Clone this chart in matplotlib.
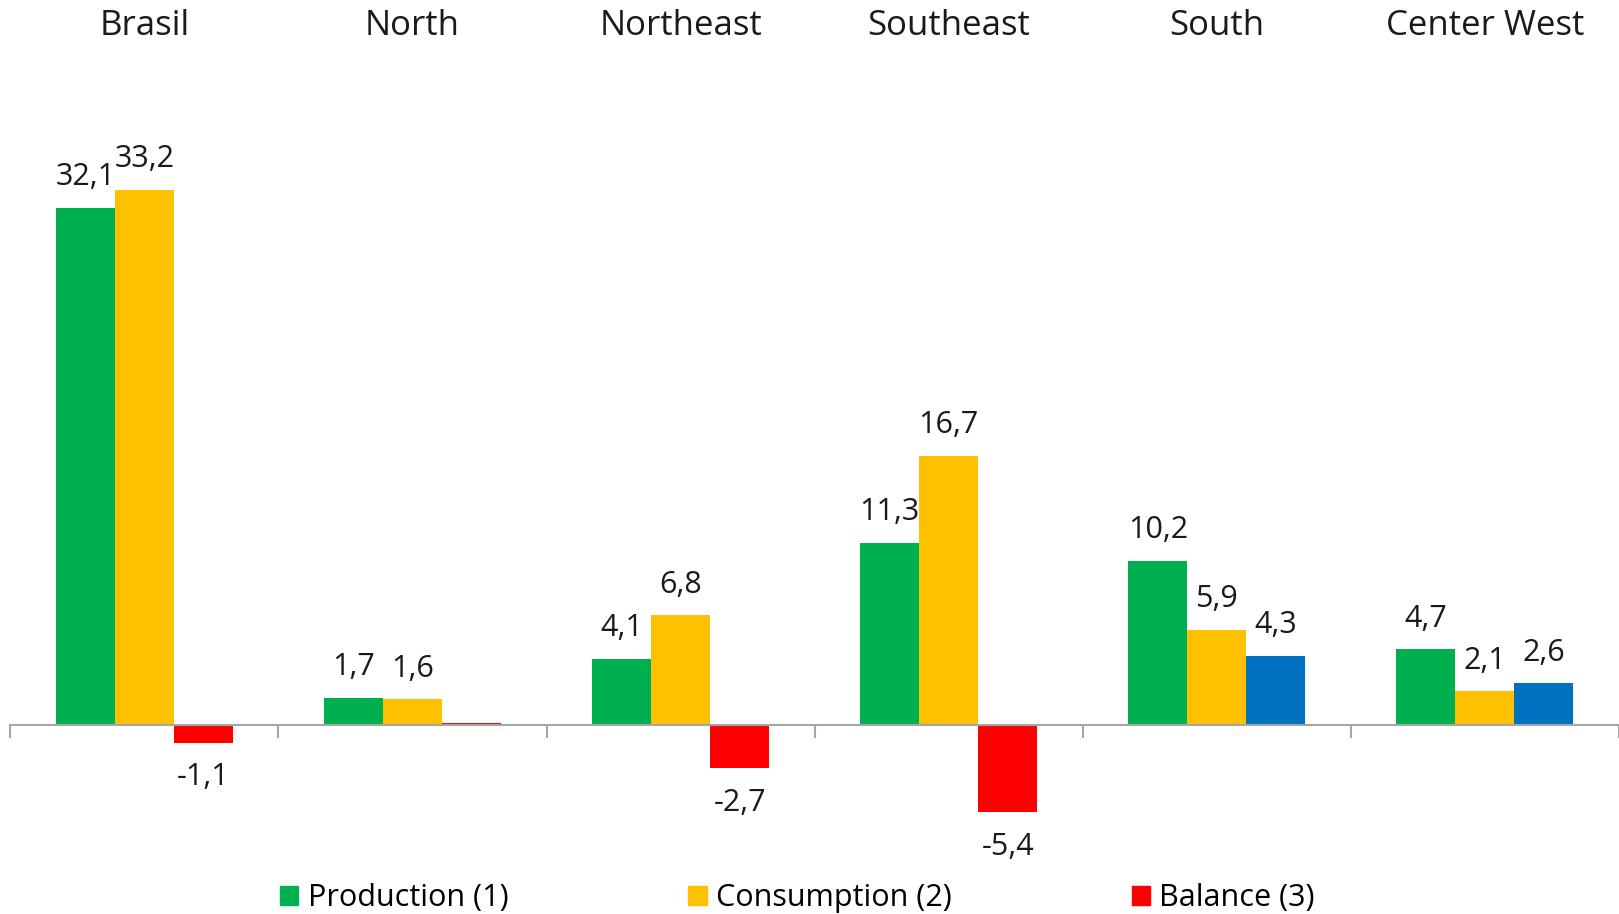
import matplotlib
matplotlib.use("Agg")
import matplotlib.pyplot as plt
import matplotlib.transforms as mtransforms
from matplotlib.patches import Patch

# Data
regions = ["Brasil", "North", "Northeast", "Southeast", "South", "Center West"]
production = [32.1, 1.7, 4.1, 11.3, 10.2, 4.7]
consumption = [33.2, 1.6, 6.8, 16.7, 5.9, 2.1]
balance = [-1.1, 0.1, -2.7, -5.4, 4.3, 2.6]
balance_labels = ["-1,1", "", "-2,7", "-5,4", "4,3", "2,6"]

green = "#00B050"
yellow = "#FFC000"
red = "#FF0000"
blue = "#0070C0"

plt.rcParams["font.family"] = ["Open Sans", "DejaVu Sans"]


def fmt(v):
    return f"{v:.1f}".replace(".", ",")


fig = plt.figure(figsize=(16.19, 9.14), dpi=100)
ax = fig.add_axes([0.0064, 0.0658, 0.9936, 0.7757])
ax.set_xlim(0, 6)
ax.set_ylim(-8, 36)

w = 0.22
xs = [i + 0.5 for i in range(len(regions))]
# positive balance shown in blue, except the tiny North bar
bal_colors = [blue if (b > 0 and r != "North") else red
              for b, r in zip(balance, regions)]

ax.bar([x - w for x in xs], production, w, color=green)
ax.bar(xs, consumption, w, color=yellow)
ax.bar([x + w for x in xs], balance, w, color=bal_colors)


def label(x, v, txt):
    if not txt:
        return
    off = 22 if v >= 0 else -25
    ax.annotate(txt, (x, v), xytext=(0, off), textcoords="offset points",
                ha="center", va="center", fontsize=22, color="#1a1a1a")


for x, p, c, b, bl in zip(xs, production, consumption, balance, balance_labels):
    label(x - w, p, fmt(p))
    label(x, c, fmt(c))
    label(x + w, b, bl)

top = mtransforms.blended_transform_factory(ax.transData, fig.transFigure)
for x, r in zip(xs, regions):
    ax.text(x, 0.972, r, transform=top, ha="center", va="center",
            fontsize=25, color="#1a1a1a")

for s in ["top", "right", "left"]:
    ax.spines[s].set_visible(False)
ax.spines["bottom"].set_position(("data", 0))
ax.spines["bottom"].set_color("#A6A6A6")
ax.spines["bottom"].set_linewidth(1.5)
ax.set_yticks([])
ax.set_xticks(range(7))
ax.set_xticklabels([])
ax.tick_params(axis="x", direction="out", length=9, width=1.5, color="#A6A6A6")

handles = [Patch(color=green, label="Production (1)"),
           Patch(color=yellow, label="Consumption (2)"),
           Patch(color=red, label="Balance (3)")]
fig.legend(handles=handles, loc="center", bbox_to_anchor=(0.4926, 0.017),
           ncol=3, frameon=False, fontsize=22, handlelength=0.6,
           handleheight=0.6, handletextpad=0.3, columnspacing=5.9)

fig.savefig("out.png", dpi=100)
